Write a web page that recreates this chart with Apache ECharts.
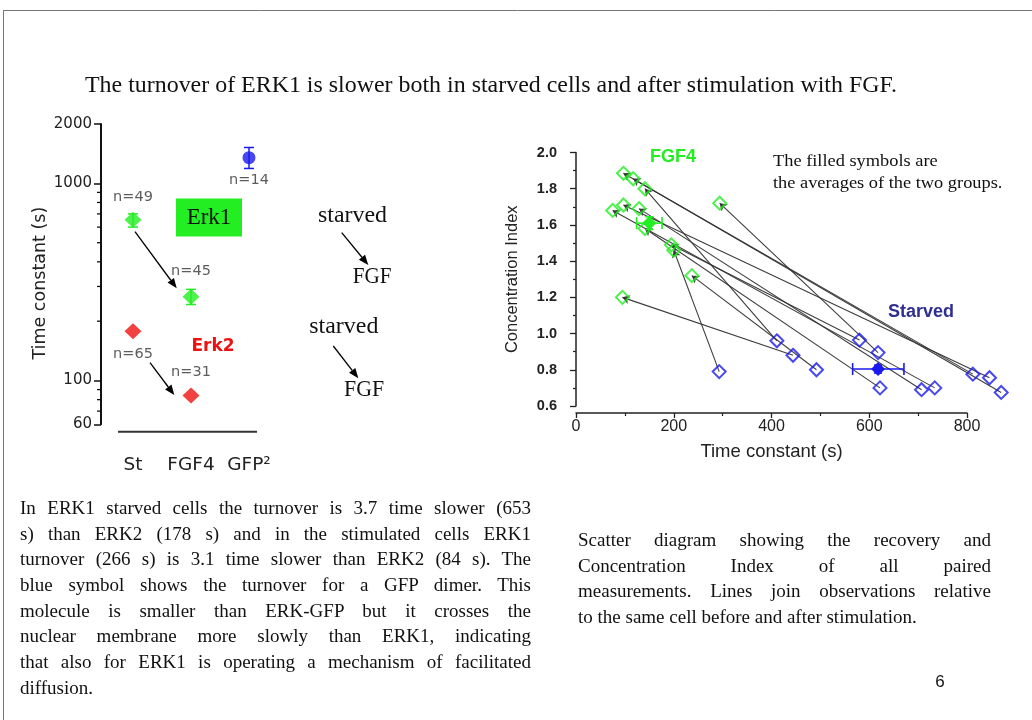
<!DOCTYPE html>
<html>
<head>
<meta charset="utf-8">
<script src="https://cdn.jsdelivr.net/npm/echarts@6/dist/echarts.min.js"></script>
<style>
  html, body { margin: 0; padding: 0; background: #fff; }
  #wrap { position: relative; width: 1032px; height: 720px; overflow: hidden; }
  #chart { position: absolute; left: 0; top: 0; width: 1032px; height: 720px; }
  .para { position: absolute; font-family: "Liberation Serif", "Times New Roman", serif; font-size: 19px; color: #111; }
  .para div { height: 25.7px; line-height: 25.7px; white-space: nowrap; text-align: justify; text-align-last: justify; }
  .para div.last { text-align-last: left; }
</style>
</head>
<body>
<div id="wrap">
  <div id="chart"></div>
  <div class="para" id="p1" style="left:20px; top:495px; width:511px;"></div>
  <div class="para" id="p2" style="left:578px; top:527px; width:413px;"></div>
</div>
<script>
// left panel: time constants on a log scale
const categories = ['St', 'FGF4', 'GFP²']
const erk1Values = [653, 266]
const erk1Errors = [[600, 700], [243, 290]]
const erk1Counts = ['n=49', 'n=45']
const erk2Values = [178, 84]
const erk2Counts = ['n=65', 'n=31']
const gfpValues = [1350]
const gfpErrors = [[1190, 1520]]
const gfpCounts = ['n=14']
const logMinorTicks = [70, 80, 90, 200, 300, 400, 500, 600, 700, 800, 900]

// right panel: paired measurements, same index = same cell
const fgfTime = [97, 117, 141, 294, 75, 97, 129, 141, 195, 200, 237, 95]
const fgfIndex = [1.885, 1.855, 1.80, 1.72, 1.68, 1.71, 1.69, 1.58, 1.49, 1.46, 1.32, 1.20]
const starvedTime = [812, 870, 411, 618, 734, 846, 707, 622, 580, 293, 492, 444]
const starvedIndex = [0.776, 0.675, 0.96, 0.895, 0.70, 0.756, 0.69, 0.70, 0.964, 0.79, 0.80, 0.88]
// averages: [time, index, timeLow, timeHigh, indexLow, indexHigh]
const fgfAverage = [150, 1.61, 124, 176, 1.575, 1.645]
const starvedAverage = [618, 0.804, 566, 671, 0.782, 0.826]

const titleText = 'The turnover of ERK1 is slower both in starved cells and after stimulation with FGF.'
const leftLines = [
  'In ERK1 starved cells the turnover is 3.7 time slower (653',
  's) than ERK2 (178 s) and in the stimulated cells ERK1',
  'turnover (266 s) is 3.1 time slower than ERK2 (84 s). The',
  'blue symbol shows the turnover for a GFP dimer. This',
  'molecule is smaller than ERK-GFP but it crosses the',
  'nuclear membrane more slowly than ERK1, indicating',
  'that also for ERK1 is operating a mechanism of facilitated',
  'diffusion.',
]
const rightLines = [
  'Scatter diagram showing the recovery and',
  'Concentration Index of all paired',
  'measurements. Lines join observations relative',
  'to the same cell before and after stimulation.',
]

const GREEN = '#22ee22'
const RED = '#ee1111'
const BLUE = '#1a1aee'
const SANS = '"Liberation Sans", Arial, sans-serif'
const WIDE = '"DejaVu Sans", sans-serif'
const SERIF = '"Liberation Serif", "Times New Roman", serif'

function fillPara(id, lines) {
  const el = document.getElementById(id)
  lines.forEach((t, i) => {
    const d = document.createElement('div')
    d.textContent = t
    if (i === lines.length - 1) d.className = 'last'
    el.appendChild(d)
  })
}
fillPara('p1', leftLines)
fillPara('p2', rightLines)

// a line with a filled head at (x2, y2)
function arrow(x1, y1, x2, y2) {
  const a = Math.atan2(y2 - y1, x2 - x1)
  const len = 10, half = 4
  const bx = x2 - len * Math.cos(a), by = y2 - len * Math.sin(a)
  const px = -Math.sin(a) * half, py = Math.cos(a) * half
  return [
    { type: 'line', silent: true, shape: { x1, y1, x2: bx, y2: by }, style: { stroke: '#000', lineWidth: 1.3 } },
    { type: 'polygon', silent: true, shape: { points: [[x2, y2], [bx + px, by + py], [bx - px, by - py]] }, style: { fill: '#000' } },
  ]
}

function text(x, y, t, font, opts, sx) {
  return {
    type: 'text', silent: true, x, y, scaleX: sx || 1,
    style: Object.assign({ text: t, font, fill: '#111', textAlign: 'left', textVerticalAlign: 'middle' }, opts || {}),
  }
}

const chart = echarts.init(document.getElementById('chart'))

const countLabel = { fontSize: 14.5, color: '#333', fontFamily: WIDE }

const option = {
  animation: false,
  grid: [
    { left: 104, top: 124, width: 174, height: 300.3 },
    { left: 576, top: 152.5, width: 391, height: 253.5 },
  ],
  xAxis: [
    {
      gridIndex: 0,
      type: 'category',
      data: categories,
      axisLine: { show: false },
      axisTick: { show: false },
      axisLabel: { interval: 0, margin: 31, fontSize: 18.5, color: '#222', fontFamily: WIDE },
    },
    {
      gridIndex: 1,
      type: 'value',
      min: 0,
      max: 800,
      interval: 200,
      offset: 7,
      splitLine: { show: false },
      axisLine: { show: true, lineStyle: { color: '#222', width: 1.5 } },
      axisTick: { show: true, length: 5, lineStyle: { color: '#222', width: 1.3 } },
      minorTick: { show: true, splitNumber: 2, length: 3, lineStyle: { color: '#222', width: 1.2 } },
      axisLabel: { margin: 6, fontSize: 16, color: '#222', fontFamily: SANS },
      name: 'Time constant (s)',
      nameLocation: 'middle',
      nameGap: 29,
      nameTextStyle: { fontSize: 18.5, color: '#222', fontFamily: SANS },
    },
  ],
  yAxis: [
    {
      gridIndex: 0,
      type: 'log',
      min: 60,
      max: 2000,
      offset: 3,
      splitLine: { show: false },
      axisLine: { show: true, lineStyle: { color: '#111', width: 2 } },
      axisTick: { show: true, length: 7, lineStyle: { color: '#111', width: 1.5 } },
      axisLabel: { margin: 9, fontSize: 15, color: '#222', fontFamily: WIDE, formatter: (v) => String(Math.round(v)) },
      name: 'Time constant (s)',
      nameLocation: 'middle',
      nameGap: 50,
      nameTextStyle: { fontSize: 17.5, color: '#222', fontFamily: WIDE, padding: [0, 18, 0, 0] },
    },
    {
      gridIndex: 1,
      type: 'value',
      min: 0.6,
      max: 2.0,
      interval: 0.2,
      offset: 13,
      splitLine: { show: false },
      axisLine: { show: true, lineStyle: { color: '#222', width: 1.5 } },
      axisTick: { show: true, length: 6, lineStyle: { color: '#222', width: 1.3 } },
      minorTick: { show: true, splitNumber: 2, length: 3, lineStyle: { color: '#222', width: 1.2 } },
      axisLabel: { margin: 6, fontSize: 14.5, fontWeight: 'bold', color: '#222', fontFamily: SANS, formatter: (v) => v.toFixed(1) },
      name: 'Concentration Index',
      nameLocation: 'middle',
      nameGap: 42,
      nameTextStyle: { fontSize: 16.5, color: '#222', fontFamily: SANS },
    },
  ],
  series: [
    // minor ticks of the log axis
    {
      type: 'custom',
      xAxisIndex: 0, yAxisIndex: 0,
      silent: true,
      data: logMinorTicks.map((v) => [0, v]),
      renderItem: (params, api) => {
        const p = api.coord([0, api.value(1)])
        const ax = params.coordSys.x - 3
        return { type: 'line', shape: { x1: ax - 4, y1: p[1], x2: ax, y2: p[1] }, style: { stroke: '#111', lineWidth: 1.3 } }
      },
    },
    // vertical error bars, left panel
    {
      type: 'custom',
      xAxisIndex: 0, yAxisIndex: 0,
      silent: true,
      z: 1,
      data: erk1Errors.map((e, i) => [i, e[0], e[1], 0]).concat(gfpErrors.map((e) => [2, e[0], e[1], 1])),
      renderItem: (params, api) => {
        const lo = api.coord([api.value(0), api.value(1)])
        const hi = api.coord([api.value(0), api.value(2)])
        const color = api.value(3) === 1 ? BLUE : GREEN
        const w = 5
        const st = { stroke: color, lineWidth: 1.5 }
        return {
          type: 'group',
          children: [
            { type: 'line', shape: { x1: lo[0], y1: lo[1], x2: hi[0], y2: hi[1] }, style: st },
            { type: 'line', shape: { x1: lo[0] - w, y1: lo[1], x2: lo[0] + w, y2: lo[1] }, style: st },
            { type: 'line', shape: { x1: hi[0] - w, y1: hi[1], x2: hi[0] + w, y2: hi[1] }, style: st },
          ],
        }
      },
    },
    {
      name: 'Erk1',
      type: 'scatter',
      xAxisIndex: 0, yAxisIndex: 0,
      symbol: 'diamond',
      symbolSize: [17, 16],
      itemStyle: { color: GREEN },
      data: erk1Values.map((v, i) => ({
        value: [i, v],
        label: { show: true, position: 'top', distance: i === 0 ? 7 : 10, formatter: erk1Counts[i] },
      })),
      label: countLabel,
      z: 3,
    },
    {
      name: 'Erk2',
      type: 'scatter',
      xAxisIndex: 0, yAxisIndex: 0,
      symbol: 'diamond',
      symbolSize: [17, 16],
      itemStyle: { color: RED },
      data: erk2Values.map((v, i) => ({
        value: [i, v],
        label: { show: true, position: i === 0 ? 'bottom' : 'top', distance: 8, formatter: erk2Counts[i] },
      })),
      label: countLabel,
      z: 3,
    },
    {
      name: 'GFP dimer',
      type: 'scatter',
      xAxisIndex: 0, yAxisIndex: 0,
      symbol: 'circle',
      symbolSize: 13,
      itemStyle: { color: BLUE },
      data: gfpValues.map((v, i) => ({
        value: [2, v],
        label: { show: true, position: 'bottom', distance: 9, formatter: gfpCounts[i] },
      })),
      label: countLabel,
      z: 3,
    },
    // right panel: lines joining the same cell, arrow towards FGF4
    {
      type: 'lines',
      coordinateSystem: 'cartesian2d',
      xAxisIndex: 1, yAxisIndex: 1,
      silent: true,
      clip: false,
      polyline: false,
      symbol: ['none', 'arrow'],
      symbolSize: 7,
      lineStyle: { color: '#333', width: 1.1, opacity: 0.95 },
      data: fgfTime.map((t, i) => ({ coords: [[starvedTime[i], starvedIndex[i]], [t, fgfIndex[i]]] })),
      z: 2,
    },
    {
      name: 'FGF4',
      type: 'scatter',
      xAxisIndex: 1, yAxisIndex: 1,
      clip: false,
      symbol: 'diamond',
      symbolSize: 13,
      itemStyle: { color: 'rgba(0,0,0,0)', borderColor: GREEN, borderWidth: 2 },
      data: fgfTime.map((t, i) => [t, fgfIndex[i]]),
      z: 4,
    },
    {
      name: 'Starved',
      type: 'scatter',
      xAxisIndex: 1, yAxisIndex: 1,
      clip: false,
      symbol: 'diamond',
      symbolSize: 13,
      itemStyle: { color: 'rgba(0,0,0,0)', borderColor: BLUE, borderWidth: 2 },
      data: starvedTime.map((t, i) => [t, starvedIndex[i]]),
      z: 4,
    },
    // averages with error bars in both directions
    {
      type: 'custom',
      xAxisIndex: 1, yAxisIndex: 1,
      silent: true,
      z: 5,
      data: [fgfAverage.concat([0]), starvedAverage.concat([1])],
      renderItem: (params, api) => {
        const c = api.coord([api.value(0), api.value(1)])
        const xl = api.coord([api.value(2), api.value(1)])
        const xh = api.coord([api.value(3), api.value(1)])
        const yl = api.coord([api.value(0), api.value(4)])
        const yh = api.coord([api.value(0), api.value(5)])
        const color = api.value(6) === 1 ? BLUE : GREEN
        const st = { stroke: color, lineWidth: 1.6 }
        const w = 6
        const s = 7
        return {
          type: 'group',
          children: [
            { type: 'line', shape: { x1: xl[0], y1: c[1], x2: xh[0], y2: c[1] }, style: st },
            { type: 'line', shape: { x1: xl[0], y1: c[1] - w, x2: xl[0], y2: c[1] + w }, style: st },
            { type: 'line', shape: { x1: xh[0], y1: c[1] - w, x2: xh[0], y2: c[1] + w }, style: st },
            { type: 'line', shape: { x1: c[0], y1: yl[1], x2: c[0], y2: yh[1] }, style: st },
            { type: 'line', shape: { x1: c[0] - 4, y1: yl[1], x2: c[0] + 4, y2: yl[1] }, style: st },
            { type: 'line', shape: { x1: c[0] - 4, y1: yh[1], x2: c[0] + 4, y2: yh[1] }, style: st },
            { type: 'polygon', shape: { points: [[c[0], c[1] - s], [c[0] + s, c[1]], [c[0], c[1] + s], [c[0] - s, c[1]]] }, style: { fill: color } },
          ],
        }
      },
    },
  ],
  graphic: [
    // slide frame
    { type: 'line', silent: true, shape: { x1: 3, y1: 10.5, x2: 1032, y2: 10.5 }, style: { stroke: '#777', lineWidth: 1 } },
    { type: 'line', silent: true, shape: { x1: 3.5, y1: 10, x2: 3.5, y2: 720 }, style: { stroke: '#777', lineWidth: 1 } },
    text(85, 86, titleText, '23px ' + SERIF, null, 1.04),
    // baseline under the left panel
    { type: 'line', silent: true, shape: { x1: 118, y1: 431.7, x2: 257, y2: 431.7 }, style: { stroke: '#333', lineWidth: 2 } },
    { type: 'rect', silent: true, shape: { x: 176, y: 198.5, width: 66, height: 38 }, style: { fill: GREEN } },
    text(209, 218, 'Erk1', '23px ' + SERIF, { textAlign: 'center' }),
    text(213, 347, 'Erk2', 'bold 17px ' + WIDE, { textAlign: 'center', fill: RED }),
    ...arrow(135, 231.7, 176.7, 288.3),
    ...arrow(150, 362.7, 174.3, 395),
    text(318, 216, 'starved', '23px ' + SERIF, null, 1.04),
    ...arrow(341.7, 232.7, 368.3, 265),
    text(352.7, 277, 'FGF', '23px ' + SERIF, null, 0.92),
    text(309.3, 327, 'starved', '23px ' + SERIF, null, 1.04),
    ...arrow(333.3, 346, 358.3, 378.3),
    text(344, 390, 'FGF', '23px ' + SERIF, null, 0.95),
    text(673, 157, 'FGF4', 'bold 18px ' + SANS, { textAlign: 'center', fill: GREEN }),
    text(773, 162, 'The filled symbols are', '17px ' + SERIF, null, 1.08),
    text(773, 184, 'the averages of the two groups.', '17px ' + SERIF, null, 1.08),
    text(921, 312, 'Starved', 'bold 18px ' + SANS, { textAlign: 'center', fill: '#2e2e90' }),
    text(940, 682, '6', '17px ' + SANS, { textAlign: 'center' }),
  ],
}

chart.setOption(option)
window.addEventListener('resize', () => chart.resize())
</script>
</body>
</html>
